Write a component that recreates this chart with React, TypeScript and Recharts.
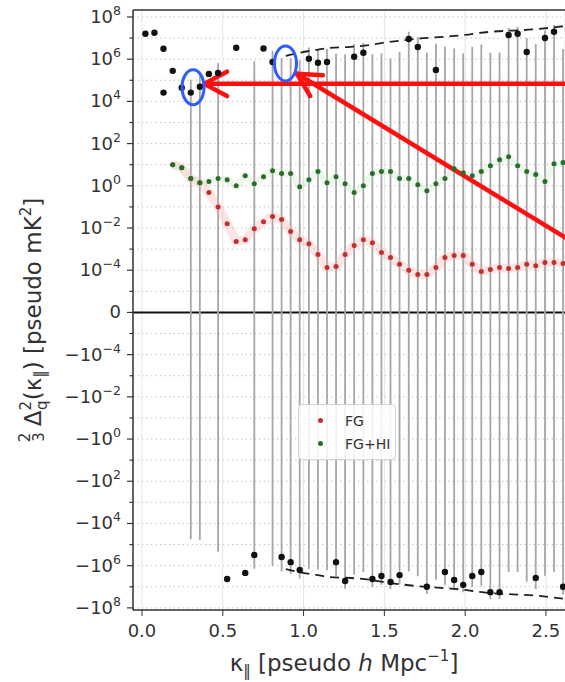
import React from "react";
import {
  ComposedChart,
  Scatter,
  Line,
  XAxis,
  YAxis,
  CartesianGrid,
  ReferenceLine,
  ReferenceDot,
  ErrorBar,
  Legend,
} from "recharts";

const FONT = "DejaVu Sans, sans-serif";
const LIN = 1e-5; // symlog linear threshold

// kappa_par bin centres [pseudo h/Mpc]
const kappaBins = [
  0.021, 0.077, 0.133, 0.19, 0.246, 0.302, 0.358, 0.414, 0.471, 0.527, 0.583,
  0.639, 0.695, 0.752, 0.808, 0.864, 0.92, 0.976, 1.033, 1.089, 1.145, 1.201,
  1.257, 1.313, 1.37, 1.426, 1.482, 1.538, 1.594, 1.651, 1.707, 1.763, 1.819,
  1.875, 1.932, 1.988, 2.044, 2.1, 2.156, 2.213, 2.269, 2.325, 2.381, 2.437,
  2.494, 2.55, 2.606,
];

// FG and FG+HI start at bin 3
const modelFirstBin = 3;
const fgValues = [
  10, 7.2, 2.2, 1.4, 0.48, 0.1, 0.016, 2.3e-3, 2.8e-3, 9.3e-3, 0.02, 0.035,
  0.025, 6.8e-3, 2.8e-3, 1.8e-3, 5.5e-4, 1.35e-4, 1.5e-4, 5.5e-4, 1.5e-3,
  2.8e-3, 2.0e-3, 7e-4, 4e-4, 1.9e-4, 1e-4, 6.3e-5, 6.3e-5, 1.35e-4, 4e-4,
  5e-4, 5e-4, 1.9e-4, 8.7e-5, 1.07e-4, 1.35e-4, 1.2e-4, 1.35e-4, 1.9e-4,
  1.65e-4, 2.3e-4, 2.3e-4, 2.1e-4,
];
const fgHiValues = [
  10, 7.2, 2.2, 1.4, 1.6, 2.2, 1.95, 1.0, 3.0, 1.26, 2.7, 5.2, 3.8, 3.8, 0.91,
  1.95, 4.7, 1.4, 2.7, 1.26, 0.48, 1.0, 3.8, 4.7, 4.7, 2.2, 2.2, 1.12, 0.59,
  1.26, 2.2, 6.5, 4.2, 3.0, 4.7, 9, 17, 24, 9, 4.7, 3.4, 1.6, 11, 12.6,
];

// measured (black) points: bin index, value, 1-sigma error
const dataBin = [
  0, 1, 2, 2, 3, 4, 5, 6, 7, 8, 9, 10, 11, 12, 13, 14, 15, 16, 17, 18, 19, 20,
  21, 22, 23, 24, 25, 26, 27, 28, 29, 30, 31, 32, 33, 34, 35, 36, 37, 38, 39,
  40, 41, 42, 43, 44, 45, 46,
];
const dataValue = [
  1.6e7, 1.8e7, 3.1e6, 2.6e4, 2.8e5, 4.4e4, 2.6e4, 4.9e4, 2.0e5, 2.2e5, -4.3e6,
  3.5e6, -2.2e6, -3.1e5, 3.2e6, 7.4e5, -3.9e5, -6.8e5, -1.6e6, 1.05e6, 6.8e5,
  7.4e5, -6.8e5, -5.3e6, 1.3e6, 2.0e6, -4.3e6, -3.1e6, -5.9e6, -2.8e6, 9.1e6,
  3.8e6, -1.0e7, 3.1e5, -2.0e6, -4.8e6, -8.1e6, -3.1e6, -2.0e6, -1.8e7, -1.8e7,
  1.4e7, 1.6e7, 2.2e6, -3.8e6, 1.0e7, 2.0e7, -1.0e7,
];
const dataSigma = [
  0, 0, 0, 0, 0, 0, 8e4, 1.1e5, 0, 4.4e5, 0, 0, 0, 1.1e6, 0, 1.74e6, 1.5e6,
  1.8e6, 2.5e6, 2.5e6, 2.2e6, 2.4e6, 2.5e6, 7e6, 4e6, 4e6, 6e6, 5e6, 7e6, 5e6,
  1.1e7, 7e6, 1.2e7, 5e6, 6e6, 8e6, 1e7, 7e6, 7e6, 2e7, 2e7, 1.6e7, 1.8e7, 8e6,
  9e6, 1.3e7, 2.2e7, 1.3e7,
];

// noise envelope (dashed, +/-)
const envKappa = [0.89, 0.98, 1.08, 1.16, 1.29, 1.42, 1.5, 1.6, 1.69, 1.88, 2.0, 2.09, 2.46, 2.65];
const envValue = [1.44e6, 2.06e6, 2.76e6, 3.44e6, 3.83e6, 4.76e6, 6.1e6, 7.6e6, 9.1e6, 1.17e7, 1.41e7, 1.76e7, 2.72e7, 4.0e7];

const xTicks = [0, 0.5, 1, 1.5, 2, 2.5];
const yTicks = Array.from({ length: 29 }, (_, i) => i - 14);
const X_MIN = -0.0557;
const X_MAX = 2.618;
const Y_MIN = -14.1;
const Y_MAX = 14.33;

// annotations (data coords: kappa, symlog units)
const arrowA = [{ x: 2.75, y: 10.83 }, { x: 0.384, y: 10.83 }];
const arrowB = [{ x: 2.75, y: 2.94 }, { x: 0.959, y: 11.31 }];
const circleA = { x: 0.316, y: 10.67 };
const circleB = { x: 0.888, y: 11.8 };

const symlog = (v: number) =>
  Math.abs(v) <= LIN ? v / LIN : Math.sign(v) * (1 + Math.log10(Math.abs(v) / LIN));

const fgData = fgValues.map((v, i) => ({ k: kappaBins[i + modelFirstBin], t: symlog(v) }));
const fgHiData = fgHiValues.map((v, i) => ({ k: kappaBins[i + modelFirstBin], t: symlog(v) }));
const pointData = dataValue.map((v, i) => ({ k: kappaBins[dataBin[i]], t: symlog(v) }));
const barData = dataValue
  .map((v, i) => {
    const s = dataSigma[i];
    const t = symlog(v);
    return { k: kappaBins[dataBin[i]], t, s, err: [t - symlog(v - s), symlog(v + s) - t] };
  })
  .filter((d) => d.s > 0);
const envTop = envKappa.map((k, i) => ({ k, t: symlog(envValue[i]) }));
const envBottom = envKappa.map((k, i) => ({ k, t: -symlog(envValue[i]) }));

const legendItems = [
  { name: "FG", color: "#c0302f" },
  { name: "FG+HI", color: "#2d6b2d" },
];

const PAR = "\u2016";

const YTick = (props: any) => {
  const { x, y, payload } = props;
  const t = payload.value as number;
  const major = t % 2 === 0;
  const axisX = x + 12;
  const exp = Math.abs(t) - 6;
  const expText = exp < 0 ? `\u2212${-exp}` : `${exp}`;
  return (
    <g>
      <line x1={axisX - (major ? 6 : 3.5)} x2={axisX} y1={y} y2={y} stroke="#333" strokeWidth={1.2} />
      {major && (
        <text x={x} y={y} dy={6} textAnchor="end" fontFamily={FONT} fontSize={18} fill="#333">
          {t === 0 ? (
            "0"
          ) : (
            <>
              <tspan>{t < 0 ? "\u221210" : "10"}</tspan>
              <tspan dy={-8} fontSize={12.5}>{expText}</tspan>
            </>
          )}
        </text>
      )}
    </g>
  );
};

const YLabel = () => (
  <text transform="translate(41,320) rotate(-90)" textAnchor="middle" fontFamily={FONT} fontSize={23} fill="#333">
    <tspan fontSize={15} dy={-11}>2</tspan>
    <tspan fontSize={15} dx={-9} dy={14}>3</tspan>
    <tspan dx={6} dy={-3}>Δ</tspan>
    <tspan fontSize={15} dy={-10}>2</tspan>
    <tspan fontSize={15} dx={-9} dy={16}>q</tspan>
    <tspan dy={-6}>(κ</tspan>
    <tspan fontSize={15} dy={4}>{PAR}</tspan>
    <tspan dy={-4}>) [pseudo mK</tspan>
    <tspan fontSize={15} dy={-10}>2</tspan>
    <tspan dy={10}>]</tspan>
  </text>
);

const XLabel = () => (
  <text x={344} y={671} textAnchor="middle" fontFamily={FONT} fontSize={23} fill="#333">
    <tspan>κ</tspan>
    <tspan fontSize={15} dy={5}>{PAR}</tspan>
    <tspan dy={-5}> [pseudo </tspan>
    <tspan fontStyle="italic">h</tspan>
    <tspan> Mpc</tspan>
    <tspan fontSize={15} dy={-10}>{"\u22121"}</tspan>
    <tspan dy={10}>]</tspan>
  </text>
);

const arrowShape = (props: any) => {
  const { x1, y1, x2, y2 } = props;
  const ang = Math.atan2(y1 - y2, x1 - x2);
  const len = 26;
  const spread = (28 * Math.PI) / 180;
  const ax = x2 + len * Math.cos(ang + spread);
  const ay = y2 + len * Math.sin(ang + spread);
  const bx = x2 + len * Math.cos(ang - spread);
  const by = y2 + len * Math.sin(ang - spread);
  return (
    <g stroke="#ff1010" strokeWidth={4.5} fill="none" strokeLinecap="round" strokeLinejoin="round">
      <line x1={x1} y1={y1} x2={x2} y2={y2} />
      <polyline points={`${ax},${ay} ${x2},${y2} ${bx},${by}`} />
    </g>
  );
};

const ellipseShape = (props: any) => (
  <ellipse cx={props.cx} cy={props.cy} rx={11} ry={17.5} fill="none" stroke="#2f5cff" strokeWidth={3} />
);

const LegendBox = () => (
  <div
    style={{
      border: "1px solid #d4d4d4",
      borderRadius: 4,
      background: "rgba(255,255,255,0.85)",
      padding: "4px 6px 4px 0",
      fontFamily: FONT,
      fontSize: 14,
      color: "#333",
      boxSizing: "border-box",
      width: 98,
      whiteSpace: "nowrap",
    }}
  >
    {legendItems.map((it) => (
      <div key={it.name} style={{ display: "flex", alignItems: "center", height: 23 }}>
        <span
          style={{
            flexShrink: 0,
            display: "inline-block",
            width: 5,
            height: 5,
            borderRadius: 3,
            background: it.color,
            marginLeft: 19,
            marginRight: 22,
          }}
        />
        <span>{it.name}</span>
      </div>
    ))}
  </div>
);

const dot = (r: number, color: string) => (p: any) => <circle cx={p.cx} cy={p.cy} r={r} fill={color} />;

export default function App() {
  return (
    <div style={{ position: "absolute", left: 0, top: 0, width: 565, height: 682, background: "#fff", overflow: "hidden" }}>
      <ComposedChart width={565} height={682} margin={{ top: 10, right: 0, bottom: 0, left: 0 }}>
        <CartesianGrid vertical={false} stroke="#c4c4c4" strokeDasharray="1.5 3" />
        <CartesianGrid horizontal={false} stroke="#e4e4e4" />
        <XAxis
          dataKey="k"
          type="number"
          domain={[X_MIN, X_MAX]}
          allowDataOverflow
          ticks={xTicks}
          tickFormatter={(v: number) => v.toFixed(1)}
          height={72}
          tickSize={6}
          tickMargin={8}
          tick={{ fontSize: 18, fill: "#333", fontFamily: FONT }}
          axisLine={{ stroke: "#333", strokeWidth: 1.5 }}
          tickLine={{ stroke: "#333" }}
          label={<XLabel />}
        />
        <YAxis
          dataKey="t"
          type="number"
          domain={[Y_MIN, Y_MAX]}
          allowDataOverflow
          ticks={yTicks}
          interval={0}
          width={133}
          tickSize={6}
          tickMargin={6}
          tickLine={false}
          tick={<YTick />}
          axisLine={{ stroke: "#333", strokeWidth: 1.5 }}
          label={<YLabel />}
        />
        <ReferenceLine y={Y_MAX} stroke="#333" strokeWidth={1.5} />
        <ReferenceLine y={0} stroke="#111" strokeWidth={2} />

        <Scatter data={barData} shape={() => <g />} isAnimationActive={false}>
          <ErrorBar dataKey="err" direction="y" width={0} stroke="#a6a6a6" strokeWidth={1.8} isAnimationActive={false} />
        </Scatter>

        <Line data={envTop} dataKey="t" type="monotone" stroke="#222" strokeWidth={1.8} strokeDasharray="9 6" dot={false} isAnimationActive={false} />
        <Line data={envBottom} dataKey="t" type="monotone" stroke="#222" strokeWidth={1.8} strokeDasharray="9 6" dot={false} isAnimationActive={false} />

        <Line data={fgData} dataKey="t" type="linear" stroke="#f7a8a8" strokeOpacity={0.3} strokeWidth={9} dot={false} isAnimationActive={false} />
        <Line data={fgHiData} dataKey="t" type="linear" stroke="#b8e2b8" strokeOpacity={0.25} strokeWidth={7} dot={false} isAnimationActive={false} />

        <Scatter name="FG" data={fgData} shape={dot(2.5, "#c0302f")} isAnimationActive={false} />
        <Scatter name="FG+HI" data={fgHiData} shape={dot(2.5, "#2d6b2d")} isAnimationActive={false} />
        <Scatter data={pointData} shape={dot(3.2, "#111")} isAnimationActive={false} />

        <ReferenceLine segment={arrowA} ifOverflow="visible" shape={arrowShape} />
        <ReferenceLine segment={arrowB} ifOverflow="visible" shape={arrowShape} />
        <ReferenceDot x={circleA.x} y={circleA.y} r={1} ifOverflow="visible" shape={ellipseShape} />
        <ReferenceDot x={circleB.x} y={circleB.y} r={1} ifOverflow="visible" shape={ellipseShape} />

        <Legend
          layout="vertical"
          align="center"
          verticalAlign="middle"
          content={() => <LegendBox />}
          wrapperStyle={{ left: 298, top: 404, width: 98 }}
        />
      </ComposedChart>
    </div>
  );
}
